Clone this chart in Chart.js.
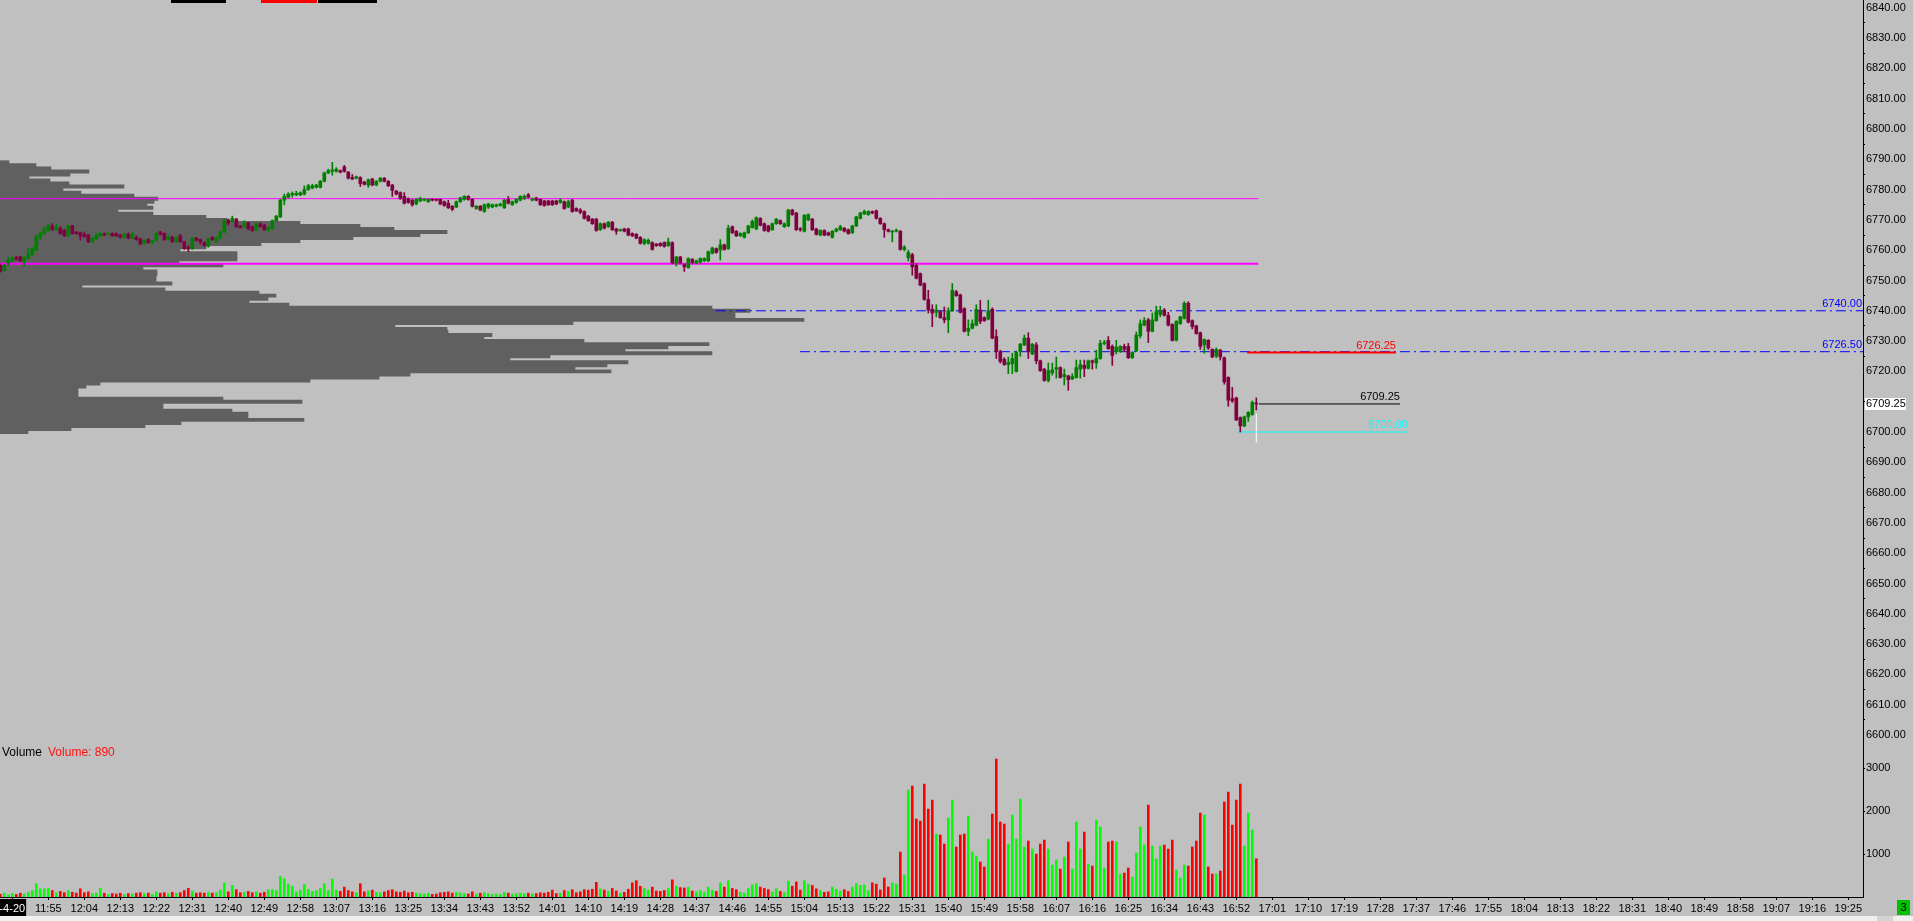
<!DOCTYPE html>
<html>
<head>
<meta charset="utf-8">
<title>1 min chart</title>
<script src="https://cdn.jsdelivr.net/npm/chart.js@4.4.1/dist/chart.umd.min.js"></script>
<style>
  html, body { margin: 0; padding: 0; background: #c0c0c0; overflow: hidden; }
  #wrap { position: relative; width: 1913px; height: 921px; }
  canvas { display: block; }
  .tb { position: absolute; top: 0; height: 3px; }
  #strip { position: absolute; left: 0; top: 916px; width: 1913px; height: 5px; background: #f0f0f0; }
  #thumb { position: absolute; left: 1877px; top: 916px; width: 16px; height: 5px; background: #d4d4d4; }
  #conn { position: absolute; left: 1897px; top: 900px; width: 13px; height: 15px; background: #00c000;
          font: 11px "Liberation Sans", sans-serif; color: #000; text-align: center; line-height: 15px; }
</style>
</head>
<body>
<div id="wrap">
  <canvas id="chart" width="1913" height="921"></canvas>
  <div class="tb" style="left:171px;width:55px;background:#000"></div>
  <div class="tb" style="left:261px;width:56px;background:#f00"></div>
  <div class="tb" style="left:318px;width:59px;background:#000"></div>
  <div id="strip"></div>
  <div id="thumb"></div>
  <div id="conn">3</div>
</div>
<script>
// one-minute bars, first one at 11:43
const FIRST_BAR = 11 * 60 + 43;

const opens = [
  6755, 6753.25, 6755.75, 6756.5, 6757.5, 6757.75, 6756.25, 6757.25, 6758.5, 6760,
  6764.25, 6765.5, 6766.5, 6768, 6766.75, 6767.25, 6766.5, 6764.75, 6768, 6766,
  6765.75, 6765.25, 6765, 6762.75, 6763.75, 6764.75, 6765.25, 6765.25, 6765.5, 6765.5,
  6765, 6764.25, 6765.25, 6764, 6764.25, 6763.75, 6762.25, 6763.5, 6762.75, 6763.25,
  6766, 6765.5, 6763.5, 6764.25, 6762.75, 6764.75, 6762.75, 6761, 6760.5, 6764,
  6763.5, 6762.5, 6761.25, 6764.25, 6762.75, 6764, 6766, 6770, 6769.5, 6770.25,
  6768, 6767.75, 6769, 6767.75, 6766.75, 6768.75, 6768.25, 6766.75, 6767.25, 6769.75,
  6771, 6776.5, 6777.5, 6778.25, 6778.25, 6778.25, 6778.5, 6780, 6780.5, 6780.75,
  6780.75, 6782.75, 6785.5, 6786, 6786, 6786.25, 6787.5, 6785.75, 6784, 6783.75,
  6784, 6782.5, 6781.5, 6783.5, 6781.5, 6782.75, 6783.75, 6782.75, 6781.5, 6779.5,
  6779, 6777.75, 6777, 6776.5, 6775.25, 6776.25, 6776.5, 6776, 6776.75, 6776.75,
  6776.75, 6776, 6775.5, 6774.5, 6774.25, 6776, 6776.75, 6777.75, 6776.75, 6773.75,
  6774.5, 6772.75, 6774.25, 6774.25, 6774.5, 6774.75, 6774, 6776.75, 6775, 6775.75,
  6776.5, 6777, 6778.25, 6776.5, 6777.25, 6776.75, 6776.25, 6776.25, 6776.25, 6776.25,
  6775.75, 6776, 6774.25, 6776.5, 6773.75, 6773.25, 6772.75, 6771.25, 6770.25, 6770.25,
  6766.75, 6768.75, 6767.75, 6769.25, 6767, 6766.5, 6767, 6767, 6765.5, 6765.25,
  6764.25, 6762.25, 6762.25, 6762.5, 6762, 6762.25, 6762.5, 6761.5, 6762.5, 6755.75,
  6757.75, 6755.25, 6754.25, 6757, 6755.75, 6756, 6756.5, 6756.5, 6759, 6760.5,
  6760, 6761.75, 6760.5, 6767.75, 6766.25, 6764.75, 6764.25, 6765.75, 6767.5, 6767,
  6770.5, 6768.75, 6768, 6766.75, 6768.75, 6769.75, 6767.75, 6768, 6773.25, 6772.25,
  6767, 6766.25, 6770, 6770.25, 6767, 6765, 6766.5, 6765.75, 6764.25, 6766.25,
  6766.75, 6767.25, 6766.75, 6765.75, 6768, 6770.5, 6772, 6771.75, 6772.75, 6773,
  6770.5, 6768.75, 6766.75, 6766, 6766.25, 6766.25, 6760.25, 6757.5, 6758.5, 6755,
  6752.25, 6749, 6743.75, 6740.5, 6739.5, 6739.75, 6737.75, 6737, 6740, 6746.25,
  6745.25, 6740.75, 6733.25, 6734.25, 6735.25, 6740.25, 6737.75, 6737.25, 6740.5, 6731.5,
  6726.5, 6724, 6722.25, 6722.5, 6720, 6726.5, 6728.75, 6731, 6725.75, 6728.75,
  6723.5, 6720.75, 6717, 6719.5, 6720.75, 6721.25, 6718.25, 6718.5, 6717.5, 6718,
  6720.75, 6722, 6721, 6723.5, 6722.75, 6724.25, 6729.25, 6730.25, 6728.25, 6726.5,
  6726.5, 6728.25, 6728.25, 6724.5, 6726.75, 6731.75, 6735.25, 6737, 6733.25, 6736.75,
  6738.75, 6740.25, 6738.5, 6735.5, 6730.25, 6735.75, 6737.5, 6742.5, 6736.75, 6735,
  6732.75, 6728.75, 6730.25, 6727.25, 6725, 6727, 6724.5, 6718, 6711, 6711.25,
  6704.75, 6702, 6705, 6705.75, 6709.5
];

const highs = [
  6755.5, 6755.25, 6757.75, 6757.75, 6758, 6758, 6758, 6760.5, 6761, 6765,
  6766, 6767.5, 6768.5, 6768.75, 6768.5, 6767.75, 6767, 6768.25, 6768.25, 6766.25,
  6766, 6766, 6765.25, 6764.25, 6765.5, 6766, 6765.75, 6765.75, 6765.75, 6765.75,
  6765.25, 6765.5, 6765.75, 6765.75, 6764.75, 6764, 6763.5, 6763.75, 6763.25, 6765.75,
  6766.25, 6765.75, 6765, 6764.75, 6764.5, 6765.25, 6763, 6761.5, 6764.25, 6764.25,
  6763.75, 6762.75, 6764, 6764.5, 6764.5, 6766.25, 6770.25, 6770.25, 6771.25, 6770.5,
  6768.25, 6769.75, 6769.25, 6768, 6769, 6769, 6768.5, 6767.75, 6770, 6771.5,
  6776.75, 6778.5, 6779, 6779.25, 6779.5, 6779.25, 6781.25, 6781.75, 6781.75, 6781.75,
  6783, 6785.75, 6786.75, 6789, 6787.25, 6786.5, 6788, 6786, 6785, 6784.5,
  6784.25, 6782.75, 6783.5, 6783.75, 6783, 6784, 6784, 6783, 6781.75, 6779.75,
  6779.25, 6779, 6777.25, 6776.75, 6777, 6777.5, 6777, 6777, 6777, 6776.75,
  6777, 6776.25, 6776.5, 6774.75, 6776.25, 6777.5, 6778, 6778, 6777, 6774.75,
  6774.75, 6775.25, 6775.5, 6775.25, 6775.25, 6775.5, 6776.75, 6777.75, 6776.25, 6777,
  6778, 6778.25, 6778.75, 6777.25, 6777.5, 6777, 6776.5, 6776.5, 6776.5, 6776.5,
  6777, 6776.25, 6776.5, 6776.75, 6774, 6773.75, 6773, 6771.5, 6770.5, 6770.5,
  6769, 6769, 6769.5, 6769.5, 6767.25, 6767, 6767.25, 6767.25, 6765.75, 6765.5,
  6764.5, 6763.75, 6763.75, 6762.75, 6762.25, 6762.5, 6762.75, 6764, 6762.75, 6758,
  6758, 6755.5, 6757.5, 6757.25, 6756.75, 6757.5, 6757.5, 6759.75, 6761, 6760.75,
  6763.5, 6762, 6768.25, 6768, 6766.5, 6765.75, 6766, 6768.25, 6770, 6771,
  6770.75, 6769, 6768.25, 6769, 6770.5, 6770, 6769, 6773.5, 6773.5, 6772.5,
  6767.5, 6771.75, 6772, 6770.5, 6767.25, 6766.75, 6766.75, 6766, 6766.5, 6767.25,
  6768.25, 6767.5, 6767, 6768.25, 6771.25, 6772.5, 6773.25, 6773, 6773, 6773.25,
  6770.75, 6769, 6767, 6766.5, 6767, 6766.5, 6761.5, 6760, 6759, 6755.5,
  6752.5, 6749.25, 6746.75, 6742, 6742, 6740, 6741.25, 6741, 6749, 6746.75,
  6745.5, 6741, 6737, 6737, 6742, 6743.5, 6738, 6743.5, 6741, 6733.75,
  6727, 6724.5, 6724.75, 6726, 6726.75, 6729.25, 6732, 6732.75, 6729.25, 6729.5,
  6723.75, 6721, 6722.75, 6722.75, 6724.75, 6721.5, 6720.75, 6718.75, 6719.25, 6723.75,
  6723.75, 6723.75, 6723.75, 6723.75, 6727, 6730.25, 6730.25, 6731.5, 6728.75, 6730.25,
  6728.5, 6729, 6729.25, 6726.5, 6733, 6737, 6737.75, 6737.5, 6739.25, 6741.5,
  6741.5, 6740.75, 6739.5, 6735.75, 6736.75, 6738.25, 6743, 6743, 6737, 6735.25,
  6733, 6730.75, 6730.5, 6727.5, 6727.75, 6727.25, 6724.75, 6718.25, 6714.75, 6711.5,
  6705, 6705.25, 6706.75, 6710.25, 6711.25
];

const lows = [
  6752.75, 6753, 6755, 6756.25, 6756.75, 6756.25, 6754.75, 6757, 6758.25, 6759.75,
  6763.5, 6765.25, 6766.25, 6766.5, 6766.5, 6765.25, 6764.5, 6764.5, 6765.25, 6765.25,
  6763.25, 6764.25, 6762.5, 6762.5, 6763.5, 6764.5, 6764.75, 6765.25, 6764.5, 6764.5,
  6764, 6764, 6763.75, 6763.75, 6763.25, 6761.75, 6762, 6762.25, 6762, 6763,
  6765, 6763.25, 6763.25, 6762.5, 6762.5, 6762.5, 6760.25, 6759.5, 6760.25, 6763,
  6762, 6761.25, 6761, 6763.25, 6762.5, 6763.75, 6765.75, 6768.25, 6769.25, 6767.5,
  6767.25, 6767.5, 6766.75, 6766.25, 6766.5, 6767.5, 6766.5, 6766, 6767, 6769.5,
  6770.75, 6775, 6777.25, 6777.5, 6778, 6778, 6778.25, 6779.75, 6780.25, 6780.5,
  6780.5, 6782.5, 6785.25, 6784.75, 6785.75, 6785.5, 6785.75, 6783.5, 6783.25, 6783.5,
  6781, 6781.5, 6780.75, 6781.25, 6781.25, 6782.5, 6782.5, 6781, 6777.75, 6778.25,
  6776.75, 6775.25, 6775.5, 6774.5, 6775, 6776, 6776.25, 6775.75, 6776.25, 6776.25,
  6775, 6774.5, 6773.75, 6773, 6774, 6775.75, 6776.5, 6776.5, 6774.25, 6773.5,
  6773, 6772.5, 6773.75, 6774, 6774.25, 6774.5, 6773.75, 6775.25, 6774.75, 6775.5,
  6776.25, 6776.75, 6777.25, 6776.25, 6776.25, 6774.75, 6774.5, 6774.75, 6774.75, 6775,
  6775.5, 6773.5, 6774, 6772.5, 6772.75, 6772, 6770.25, 6769.5, 6768.5, 6766.25,
  6766.5, 6767, 6767.5, 6766.5, 6765.25, 6766.25, 6766, 6764.75, 6764.5, 6763.75,
  6762, 6761.75, 6762, 6760, 6761.25, 6761.25, 6761, 6761.25, 6755.5, 6754.75,
  6755.5, 6753, 6754, 6755.5, 6755.5, 6755.75, 6756.25, 6756.25, 6758.75, 6759,
  6756.75, 6760, 6760.25, 6765.5, 6764.5, 6764.5, 6764, 6765.5, 6767.25, 6766.75,
  6768, 6766.25, 6766, 6766.5, 6768.5, 6768.5, 6767.5, 6767.75, 6771.5, 6766.5,
  6766.25, 6766, 6769.75, 6766.5, 6765, 6764.75, 6764.75, 6764.75, 6764, 6766,
  6766.5, 6766, 6765.25, 6765.5, 6767.75, 6770.25, 6771.75, 6771.5, 6772, 6770.25,
  6768.5, 6764.25, 6766, 6762.75, 6766, 6760, 6759.75, 6756.5, 6751.75, 6750.5,
  6748.25, 6743.5, 6739.25, 6734.75, 6738, 6737.5, 6736, 6732.75, 6739.75, 6744.75,
  6739.25, 6733, 6731.75, 6734, 6735, 6735.75, 6736.5, 6737, 6730.75, 6724.25,
  6722.75, 6722, 6719.25, 6719.25, 6719.75, 6725, 6728.5, 6724.25, 6725.5, 6722.5,
  6720, 6716.75, 6716.5, 6718.75, 6717.75, 6717.75, 6715.5, 6713.75, 6717.25, 6717.75,
  6717.75, 6718.25, 6720.75, 6720.75, 6721, 6724, 6728.75, 6727.25, 6722, 6725.75,
  6726.25, 6726.5, 6724.25, 6724.25, 6726.5, 6731, 6735, 6729.5, 6733, 6736.5,
  6738, 6738.25, 6735, 6730, 6730, 6735.5, 6737.25, 6736, 6734, 6732.25,
  6727.25, 6726, 6727.25, 6724.5, 6724.5, 6723.75, 6715.75, 6708.5, 6709.75, 6703.75,
  6700, 6701.75, 6703.5, 6705.5, 6707.25
];

const closes = [
  6753, 6755, 6756.75, 6757.25, 6757, 6756.5, 6757.5, 6758.75, 6760.5, 6764.5,
  6765.5, 6767, 6768, 6766.75, 6767.5, 6765.5, 6764.75, 6768, 6765.5, 6765.5,
  6764.75, 6764.5, 6762.75, 6764, 6765, 6765.5, 6765, 6765.5, 6764.75, 6764.75,
  6764.25, 6765.25, 6764, 6765.25, 6763.5, 6762, 6763.25, 6762.5, 6763, 6765.5,
  6765.25, 6763.5, 6764.5, 6762.75, 6764.25, 6762.75, 6760.5, 6760.5, 6764, 6763.25,
  6762.75, 6761.5, 6763.75, 6763.5, 6764.25, 6766, 6769.5, 6769, 6770.5, 6767.75,
  6767.5, 6768.75, 6767, 6766.5, 6768.75, 6767.75, 6766.75, 6767.5, 6769.75, 6771.25,
  6776.5, 6777.75, 6778.5, 6778.75, 6778.75, 6779, 6780, 6781.25, 6781.25, 6781.5,
  6782.75, 6785.5, 6786.25, 6786.5, 6786.75, 6785.75, 6786, 6783.75, 6783.5, 6784.25,
  6782, 6781.75, 6783.25, 6781.5, 6782.75, 6783.75, 6782.75, 6781.25, 6779.75, 6778.5,
  6777, 6775.5, 6775.75, 6775, 6776.75, 6777, 6776.75, 6776.75, 6776.5, 6776.5,
  6775.25, 6774.75, 6774, 6773.5, 6776, 6777.25, 6777.75, 6776.75, 6774.5, 6774.5,
  6773.25, 6775, 6775.25, 6775, 6775, 6775.25, 6776.5, 6775.5, 6776, 6776.75,
  6777.75, 6777.75, 6777.5, 6776.75, 6776.5, 6775, 6774.75, 6775, 6775, 6775.25,
  6776.5, 6773.75, 6776, 6772.75, 6773, 6772.5, 6770.5, 6769.75, 6768.75, 6766.5,
  6768.75, 6767.25, 6769.25, 6766.75, 6766.25, 6766.75, 6766.25, 6765, 6764.75, 6764,
  6762.25, 6763.5, 6763.25, 6760.25, 6761.5, 6761.5, 6761.25, 6762.75, 6755.75, 6757.75,
  6755.75, 6754.5, 6757.25, 6756, 6756.5, 6757.25, 6757.25, 6759.5, 6760.75, 6759.25,
  6761.75, 6760.25, 6767.25, 6765.75, 6764.75, 6765.5, 6765.75, 6768, 6769.5, 6770.75,
  6768.25, 6766.5, 6766.25, 6768.75, 6770.25, 6768.75, 6768.75, 6773.25, 6771.75, 6766.75,
  6766.75, 6771.5, 6771.75, 6766.75, 6765.25, 6766.5, 6765, 6765, 6766.25, 6767,
  6767.75, 6766.25, 6765.5, 6768, 6771, 6772.25, 6772.75, 6772.75, 6772.25, 6770.5,
  6768.75, 6766.75, 6766.25, 6766.25, 6766.5, 6760.25, 6761, 6759.25, 6754.5, 6750.75,
  6748.5, 6743.75, 6740.25, 6739.25, 6740.25, 6737.75, 6737, 6740, 6746.75, 6745,
  6739.5, 6733.25, 6734.25, 6735.75, 6740.5, 6736.5, 6736.75, 6740, 6731, 6726.5,
  6723.25, 6722.25, 6723, 6724.25, 6726.25, 6729, 6731, 6726.5, 6729, 6723.5,
  6720.25, 6717, 6720.25, 6720.5, 6721.25, 6718, 6719, 6717.25, 6718.25, 6721.25,
  6722.25, 6721, 6723.5, 6723, 6724.25, 6729.25, 6729.5, 6727.5, 6725.25, 6728,
  6728.25, 6727.25, 6724.5, 6726.25, 6732, 6735.75, 6736.75, 6733.25, 6737, 6739.75,
  6740, 6738.5, 6735.25, 6730.25, 6736.5, 6738, 6742.5, 6736.25, 6734.75, 6732.5,
  6728.25, 6730.5, 6727.75, 6724.75, 6727.25, 6724.75, 6716.5, 6710.5, 6710.25, 6704,
  6702, 6705, 6706.5, 6709.75, 6709.25
];

const volumes = [
  60, 90, 50, 80, 60, 90, 70, 110, 150, 310,
  190, 190, 200, 150, 100, 130, 100, 150, 110, 90,
  190, 100, 120, 80, 90, 200, 90, 60, 80, 70,
  90, 60, 80, 70, 90, 100, 80, 90, 60, 120,
  90, 100, 80, 110, 90, 100, 150, 200, 140, 90,
  100, 90, 110, 90, 100, 160, 330, 120, 270, 170,
  100, 110, 130, 100, 120, 90, 110, 170, 170, 150,
  480, 420, 300, 250, 120, 160, 290, 180, 130, 150,
  200, 310, 150, 420, 160, 130, 230, 150, 120, 100,
  310, 120, 140, 160, 110, 100, 120, 150, 170, 120,
  110, 140, 100, 110, 90, 80, 70, 90, 60, 70,
  100, 110, 120, 90, 110, 100, 80, 70, 120, 70,
  90, 100, 80, 60, 70, 60, 110, 90, 70, 80,
  90, 80, 90, 70, 80, 100, 90, 110, 160, 80,
  90, 150, 130, 170, 100, 120, 170, 160, 180, 340,
  190, 160, 130, 200, 140, 90, 110, 180, 330, 380,
  250, 200, 160, 230, 140, 130, 150, 200, 400, 250,
  220, 210, 230, 140, 120, 150, 110, 230, 160, 130,
  330, 230, 380, 200, 170, 110, 90, 200, 280, 310,
  230, 200, 170, 120, 190, 130, 100, 370, 250, 350,
  160, 380, 300, 270, 190, 150, 110, 120, 230, 180,
  140, 170, 130, 230, 310, 270, 280, 150, 330, 300,
  163, 442, 233, 326, 302, 1046, 512, 2488, 2581, 1814,
  1767, 2627, 2046, 2255, 1465, 1442, 1232, 1837, 2255, 1163,
  1442, 1465, 1883, 1046, 953, 814, 698, 1349, 1930, 3209,
  1744, 1697, 1232, 1907, 1349, 2279, 1163, 1302, 1116, 1000,
  1232, 1325, 1116, 744, 860, 651, 930, 1279, 651, 1744,
  1116, 1511, 767, 721, 1790, 1628, 674, 1279, 1302, 1279,
  535, 558, 674, 465, 1023, 1628, 1209, 2139, 1186, 884,
  1186, 1209, 1116, 1325, 628, 442, 744, 721, 1163, 1302,
  1953, 1907, 698, 535, 535, 605, 2209, 2441, 1674, 2255,
  2627, 1186, 1953, 1558, 890
];

// volume at price, one row per point, from 6789 down to 6700
const profilePrices = [
  6789, 6788, 6787, 6786, 6785, 6784, 6783, 6782, 6781, 6780,
  6779, 6778, 6777, 6776, 6775, 6774, 6773, 6772, 6771, 6770,
  6769, 6768, 6767, 6766, 6765, 6764, 6763, 6762, 6761, 6760,
  6759, 6758, 6757, 6756, 6755, 6754, 6753, 6752, 6751, 6750,
  6749, 6748, 6747, 6746, 6745, 6744, 6743, 6742, 6741, 6740,
  6739, 6738, 6737, 6736, 6735, 6734, 6733, 6732, 6731, 6730,
  6729, 6728, 6727, 6726, 6725, 6724, 6723, 6722, 6721, 6720,
  6719, 6718, 6717, 6716, 6715, 6714, 6713, 6712, 6711, 6710,
  6709, 6708, 6707, 6706, 6705, 6704, 6703, 6702, 6701, 6700
];
const profileVolume = [
  9, 36, 51, 89, 70, 29, 50, 69, 124, 63,
  81, 134, 158, 154, 147, 153, 118, 153, 206, 227,
  300, 360, 394, 447, 420, 353, 300, 261, 206, 180,
  237, 237, 237, 179, 223, 143, 157, 157, 156, 156,
  172, 82, 165, 259, 276, 268, 249, 289, 712, 750,
  735, 735, 804, 573, 395, 447, 448, 492, 484, 584,
  709, 668, 625, 712, 550, 510, 628, 607, 575, 611,
  410, 379, 310, 100, 86, 78, 78, 78, 223, 302,
  163, 163, 232, 248, 248, 304, 181, 145, 71, 28
];

// horizontal levels: price, from / to (minutes of the day), label
const levelPrices = [6777, 6755.5, 6740, 6726.5, 6726.25, 6709.25, 6700];
const levelFrom   = [702.9, 702.9, 881.9, 902.9, 1014.7, 1017.7, 1012.2];
const levelTo     = [1017.5, 1017.5, 1168.7, 1168.7, 1051.9, 1052.9, 1054.9];
const levelText   = ['', '', '6740.00', '6726.50', '6726.25', '6709.25', '6700.00'];
const levelStyle  = [
  { color: '#ff00ff', width: 1, dash: [], order: 7 },
  { color: '#ff00ff', width: 2, dash: [], order: 7 },
  { color: '#0000ff', width: 1, dash: [10, 4, 2, 4], order: 8 },
  { color: '#0000ff', width: 1, dash: [10, 4, 2, 4], order: 8 },
  { color: '#ff0000', width: 2, dash: [], order: 5 },
  { color: '#000000', width: 1, dash: [], order: 5 },
  { color: '#00ffff', width: 1, dash: [], order: 5 }
];
const levelOnAxis = [false, false, true, true, false, false, false];

// white marker on the last bar
const markerTime = 1017;
const markerRange = [6696.5, 6706];

const volumeTicks = [1000, 2000, 3000];

const X_MIN = 702.925, X_MAX = 1168.675;
const PRICE_MIN = 6597.69, PRICE_MAX = 6842.57;
const VOL_MAX = 3605;
const UP = '#008000', DOWN = '#800040';
const FONT = 'Liberation Sans';

const times = closes.map((_, i) => FIRST_BAR + i);
const isUp = closes.map((c, i) => c >= opens[i]);
const lastClose = closes[closes.length - 1];

function hhmm(m) {
  const h = Math.floor(m / 60);
  const mm = Math.round(m - h * 60);
  return h + ':' + String(mm).padStart(2, '0');
}

const levelSets = levelPrices.map((p, i) => ({
  type: 'line',
  data: [{ x: levelFrom[i], y: p }, { x: levelTo[i], y: p }],
  borderColor: levelStyle[i].color,
  borderWidth: levelStyle[i].width,
  borderDash: levelStyle[i].dash,
  pointRadius: 0,
  fill: false,
  tension: 0,
  order: levelStyle[i].order
}));

const textPlugin = {
  id: 'texts',
  afterDatasetsDraw(chart) {
    const { ctx, scales } = chart;
    const x = scales.x, y = scales.y, yv = scales.yv;
    ctx.save();
    ctx.font = '11px "' + FONT + '"';
    ctx.textBaseline = 'alphabetic';
    ctx.textAlign = 'right';
    levelPrices.forEach((p, i) => {
      if (!levelText[i]) return;
      const px = levelOnAxis[i] ? chart.chartArea.right - 1 : x.getPixelForValue(levelTo[i]);
      ctx.fillStyle = levelStyle[i].color;
      ctx.fillText(levelText[i], px, y.getPixelForValue(p) - 3.5);
    });

    // pane title
    ctx.textAlign = 'left';
    ctx.font = '12px "' + FONT + '"';
    ctx.fillStyle = '#000';
    const ty = yv.top + 14;
    ctx.fillText('Volume', 2, ty);
    const w = ctx.measureText('Volume').width;
    ctx.fillStyle = '#ff1010';
    ctx.fillText('Volume: ' + volumes[volumes.length - 1], 2 + w + 6, ty);

    // last price box on the axis
    const ly = y.getPixelForValue(lastClose);
    ctx.fillStyle = '#fff';
    ctx.fillRect(y.left + 2, ly - 6, 41, 12);
    ctx.fillStyle = '#000';
    ctx.font = '11px "' + FONT + '"';
    ctx.textBaseline = 'middle';
    ctx.fillText(lastClose.toFixed(2), y.left + 3, ly + 0.5);
    ctx.restore();
  }
};

const axisFont = { family: FONT, size: 11 };

new Chart(document.getElementById('chart'), {
  type: 'bar',
  data: {
    datasets: [
      {
        type: 'bar', indexAxis: 'y', xAxisID: 'xp', yAxisID: 'y',
        data: profilePrices.map((p, i) => ({ x: profileVolume[i], y: p })),
        backgroundColor: '#606060', barThickness: 3.3, grouped: false, order: 10
      },
      ...levelSets,
      {
        type: 'bar', yAxisID: 'yv',
        data: times.map((t, i) => ({ x: t, y: volumes[i] })),
        backgroundColor: isUp.map(u => u ? '#00ff00' : '#ff0000'),
        barThickness: 2, grouped: false, order: 4
      },
      {
        type: 'bar', yAxisID: 'y',
        data: times.map((t, i) => ({ x: t, y: [lows[i], highs[i]] })),
        backgroundColor: isUp.map(u => u ? UP : DOWN),
        barThickness: 1, grouped: false, order: 3
      },
      {
        type: 'bar', yAxisID: 'y',
        data: times.map((t, i) => ({ x: t, y: [opens[i], closes[i]] })),
        backgroundColor: isUp.map(u => u ? UP : DOWN),
        barThickness: 3, minBarLength: 1, grouped: false, order: 2
      },
      {
        type: 'line',
        data: [{ x: markerTime, y: markerRange[0] }, { x: markerTime, y: markerRange[1] }],
        borderColor: '#ffffff', borderWidth: 1, pointRadius: 0, order: 1
      }
    ]
  },
  options: {
    responsive: false,
    animation: false,
    devicePixelRatio: 1,
    layout: { padding: 0 },
    events: [],
    plugins: { legend: { display: false }, tooltip: { enabled: false } },
    scales: {
      x: {
        type: 'linear', position: 'bottom', min: X_MIN, max: X_MAX, offset: false,
        border: { color: '#000', width: 1 },
        grid: { drawOnChartArea: false, tickLength: 3, color: '#000', offset: false },
        ticks: {
          font: axisFont, padding: 2, maxRotation: 0, autoSkip: false,
          color: c => c.index === 0 ? '#fff' : '#000',
          showLabelBackdrop: c => c.index === 0,
          backdropColor: '#000',
          backdropPadding: { top: 3, bottom: 2, left: 1, right: 1 },
          callback: (v, i) => i === 0 ? '-4-20' : hhmm(v)
        },
        afterBuildTicks: s => {
          const t = [];
          for (let v = 706; v <= s.max; v += 9) t.push({ value: v });
          s.ticks = t;
        },
        afterFit: s => { s.height = 24; s.paddingLeft = 0; s.paddingRight = 0; }
      },
      xp: { type: 'linear', display: false, min: 0, max: 1863, offset: false },
      y: {
        type: 'linear', position: 'right', stack: 'pane', stackWeight: 742,
        min: PRICE_MIN, max: PRICE_MAX, offset: false,
        border: { color: '#000', width: 1 },
        grid: { drawOnChartArea: false, tickLength: 2, color: '#000' },
        ticks: {
          font: axisFont, color: '#000', padding: 1, stepSize: 10, includeBounds: false,
          autoSkip: false, callback: v => v.toFixed(2)
        },
        afterBuildTicks: s => { s.ticks = s.ticks.filter(t => Math.abs(t.value - lastClose) > 3); },
        afterFit: s => { s.width = 50; s.paddingTop = 0; s.paddingBottom = 0; }
      },
      yv: {
        type: 'linear', position: 'right', stack: 'pane', stackWeight: 155,
        min: 0, max: VOL_MAX, offset: false,
        border: { color: '#000', width: 1 },
        grid: { drawOnChartArea: false, tickLength: 2, color: '#000' },
        ticks: {
          font: axisFont, color: '#000', padding: 1, autoSkip: false,
          callback: v => String(v)
        },
        afterBuildTicks: s => { s.ticks = volumeTicks.map(v => ({ value: v })); },
        afterFit: s => { s.width = 50; s.paddingTop = 0; s.paddingBottom = 0; }
      }
    }
  },
  plugins: [textPlugin]
});
</script>
</body>
</html>
